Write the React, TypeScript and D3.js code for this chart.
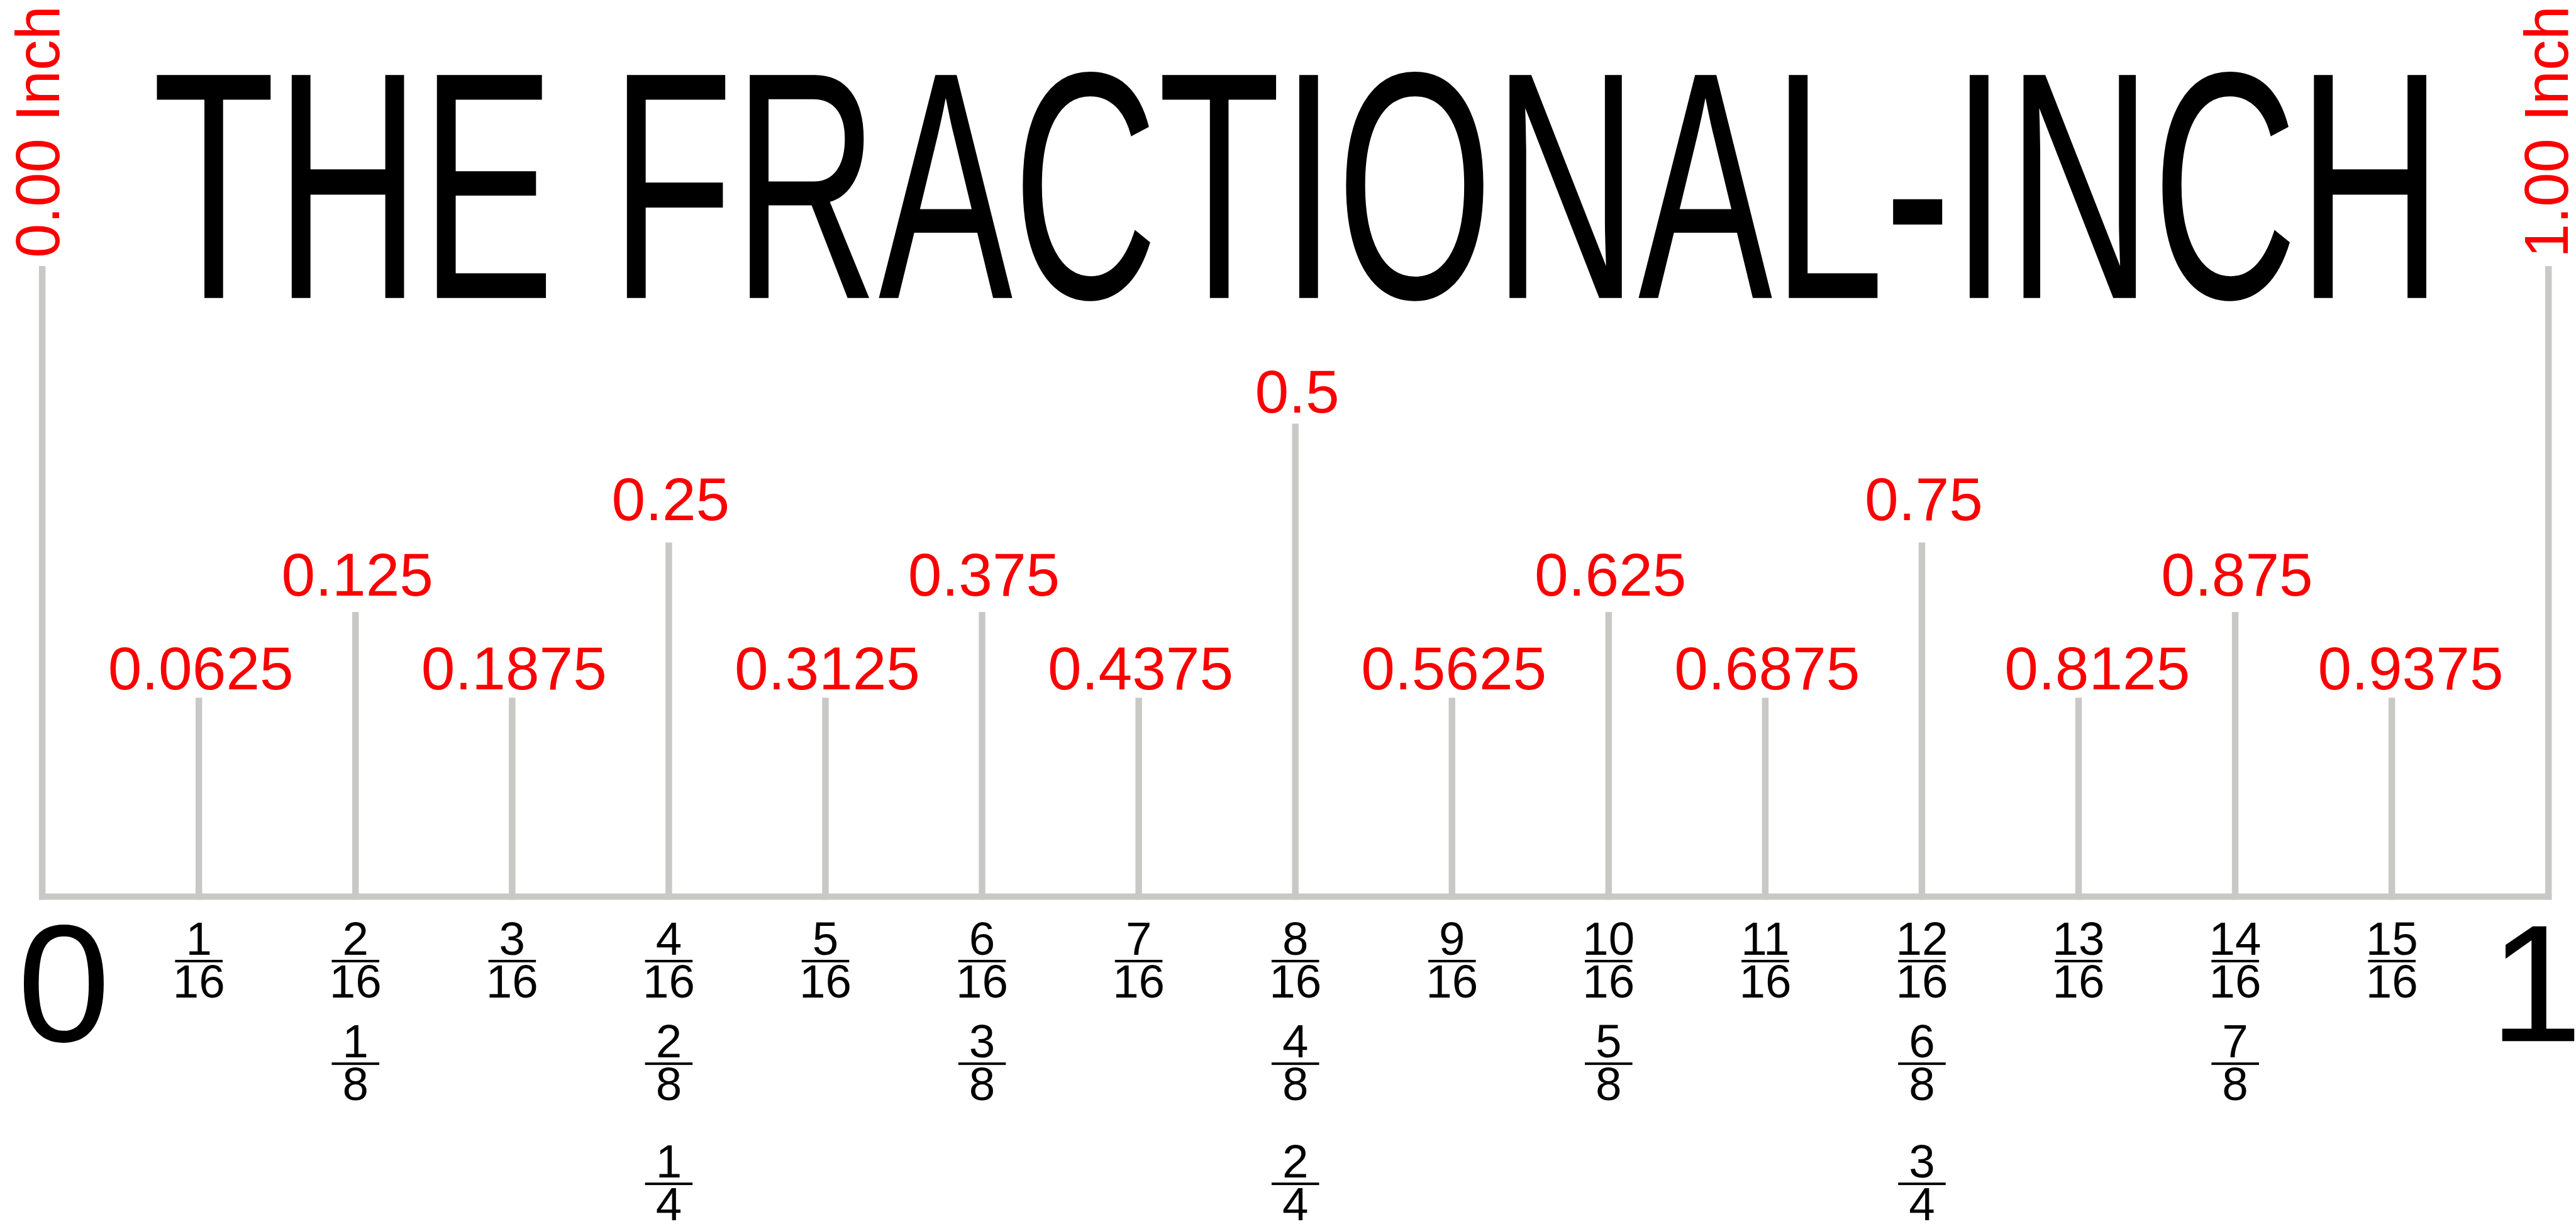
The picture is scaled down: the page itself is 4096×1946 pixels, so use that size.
import React from "react";
import * as d3 from "d3";

// ---- data ----
const TITLE = "THE FRACTIONAL-INCH";
const tickNumerators = [0, 1, 2, 3, 4, 5, 6, 7, 8, 9, 10, 11, 12, 13, 14, 15, 16];
const decimalLabels = [
  "0.0625", "0.125", "0.1875", "0.25", "0.3125", "0.375", "0.4375", "0.5",
  "0.5625", "0.625", "0.6875", "0.75", "0.8125", "0.875", "0.9375",
];
const sixteenthNums = [1, 2, 3, 4, 5, 6, 7, 8, 9, 10, 11, 12, 13, 14, 15];
const eighthNums = [1, 2, 3, 4, 5, 6, 7];
const quarterNums = [1, 2, 3];
const endLabels = ["0.00 Inch", "1.00 Inch"];
const endDigits = ["0", "1"];

// ---- layout (reference pixel space) ----
const W = 4118;
const H = 1956;
const FONT = "'Liberation Sans', Arial, Helvetica, sans-serif";
const RED = "#fb0000";
const GREY = "#c8c9c6";
const BASE_Y = 1433;
const TICK_W = 10.5;

const x = d3.scaleLinear().domain([0, 1]).range([67.5, 4074]);

type Level = "end" | "half" | "quarter" | "eighth" | "sixteenth";
const levelOf = (n: number): Level =>
  n % 16 === 0 ? "end" : n % 8 === 0 ? "half" : n % 4 === 0 ? "quarter" : n % 2 === 0 ? "eighth" : "sixteenth";

const tickTop: Record<Level, number> = { end: 425, half: 677, quarter: 867, eighth: 978, sixteenth: 1115 };
const labelBase: Record<Level, number> = { end: 0, half: 659, quarter: 831, eighth: 952, sixteenth: 1102 };
const labelShift = (n: number) => (n === 13 || n === 15 ? 30 : 3);

const fractionRows = [
  { nums: sixteenthNums, den: 16, barY: 1536 },
  { nums: eighthNums, den: 8, barY: 1700 },
  { nums: quarterNums, den: 4, barY: 1892 },
];

function Fraction({ cx, barY, num, den }: { cx: number; barY: number; num: number; den: number }) {
  return (
    <g>
      <text x={cx} y={barY - 10} textAnchor="middle" fontSize={75} fontFamily={FONT} fill="#000">
        {num}
      </text>
      <rect x={cx - 38} y={barY - 2} width={76} height={4} fill="#000" />
      <text x={cx} y={barY + 58} textAnchor="middle" fontSize={75} fontFamily={FONT} fill="#000">
        {den}
      </text>
    </g>
  );
}

export default function App() {
  const titleScale = 0.6206;
  const titleFs = 518;
  const titleStart = 243.6;
  return (
    <svg
      width={4096}
      height={1946}
      viewBox={`0 0 ${W} ${H}`}
      style={{ position: "absolute", left: 0, top: 0, display: "block", background: "#fff" }}
    >
      <rect x={0} y={0} width={W} height={H} fill="#fff" />

      {/* Title */}
      <text
        transform={`translate(${titleStart}, 476) scale(${titleScale}, 1)`}
        fontSize={titleFs}
        fontFamily={FONT}
        fill="#000"
        style={{ fontKerning: "none" }}
      >
        {TITLE}
      </text>

      {/* Baseline */}
      <line x1={x(0) - 5} x2={x(1) + 5} y1={BASE_Y} y2={BASE_Y} stroke={GREY} strokeWidth={10} />

      {/* Ticks */}
      {tickNumerators.map((n) => {
        const lv = levelOf(n);
        return (
          <line
            key={`t${n}`}
            x1={x(n / 16)}
            x2={x(n / 16)}
            y1={tickTop[lv]}
            y2={BASE_Y + 5}
            stroke={GREY}
            strokeWidth={TICK_W}
          />
        );
      })}

      {/* Decimal labels */}
      {decimalLabels.map((lab, i) => {
        const n = i + 1;
        const lv = levelOf(n);
        return (
          <text
            key={`d${n}`}
            x={x(n / 16) + labelShift(n)}
            y={labelBase[lv]}
            textAnchor="middle"
            fontSize={97}
            fontFamily={FONT}
            fill={RED}
          >
            {lab}
          </text>
        );
      })}

      {/* End labels rotated */}
      {endLabels.map((lab, i) => (
        <text
          key={`e${i}`}
          transform={`translate(${x(i) + (i === 0 ? 27.5 : 31)}, 412) rotate(-90)`}
          fontSize={98}
          fontFamily={FONT}
          fill={RED}
        >
          {lab}
        </text>
      ))}

      {/* Big digits */}
      {endDigits.map((d, i) => (
        <text
          key={`b${i}`}
          x={i === 0 ? x(0) + 34.5 : x(1) - 20}
          y={1664}
          textAnchor="middle"
          fontSize={267}
          fontFamily={FONT}
          fill="#000"
        >
          {d}
        </text>
      ))}

      {/* Fractions */}
      {fractionRows.map((row, r) =>
        row.nums.map((num) => (
          <Fraction key={`f${r}-${num}`} cx={x(num / row.den)} barY={row.barY} num={num} den={row.den} />
        ))
      )}
    </svg>
  );
}
